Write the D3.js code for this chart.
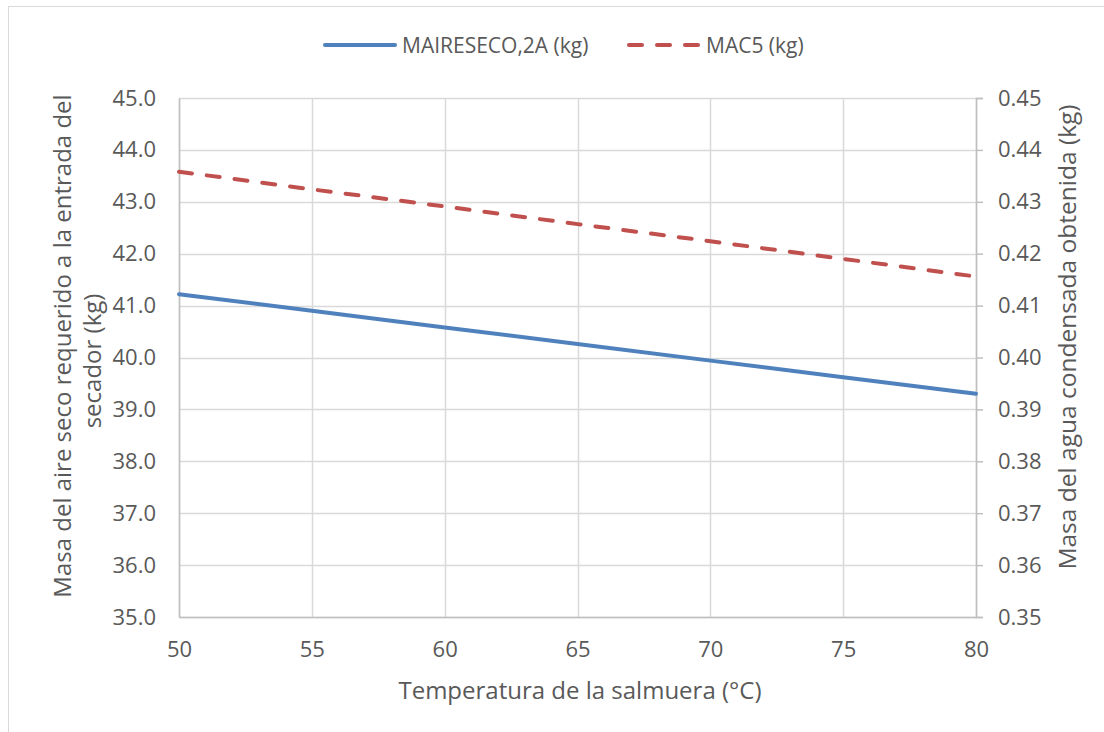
<!DOCTYPE html>
<html>
<head>
<meta charset="utf-8">
<script src="https://cdn.jsdelivr.net/npm/d3@7"></script>
<style>
  html, body { margin: 0; padding: 0; background: #fff; }
  svg text { font-family: "Open Sans", "Liberation Sans", sans-serif; fill: #595959; }
</style>
</head>
<body>
<svg id="chart" width="1104" height="732"></svg>
<script>
// Temperatura de la salmuera (°C)
const temperatures = [50, 55, 60, 65, 70, 75, 80];
// Masa del aire seco requerido (kg), eje izquierdo
const maireSeco = [41.22, 40.90, 40.58, 40.26, 39.94, 39.62, 39.30];
// Masa del agua condensada (kg), eje derecho
const mac5 = [0.4358, 0.4324, 0.4291, 0.4257, 0.4224, 0.4190, 0.4156];

const xTicks = [50, 55, 60, 65, 70, 75, 80];
const leftTicks = [35, 36, 37, 38, 39, 40, 41, 42, 43, 44, 45];
const rightTicks = [0.35, 0.36, 0.37, 0.38, 0.39, 0.40, 0.41, 0.42, 0.43, 0.44, 0.45];

const seriesNames = ["MAIRESECO,2A (kg)", "MAC5 (kg)"];
const colors = ["#4f81bd", "#c0504d"];

const svg = d3.select("#chart");
const plot = { left: 179, right: 976, top: 98, bottom: 617 };

const x = d3.scaleLinear().domain([50, 80]).range([plot.left, plot.right]);
const yL = d3.scaleLinear().domain([35, 45]).range([plot.bottom, plot.top]);
const yR = d3.scaleLinear().domain([0.35, 0.45]).range([plot.bottom, plot.top]);

// chart area frame
svg.append("rect")
  .attr("x", 8.5).attr("y", 6.5).attr("width", 1110).attr("height", 740)
  .attr("fill", "none").attr("stroke", "#d9d9d9").attr("stroke-width", 1);

// gridlines
const grid = svg.append("g");
grid.selectAll("line.h").data(leftTicks).join("line")
  .attr("x1", plot.left).attr("x2", plot.right)
  .attr("y1", d => Math.round(yL(d)) + 0.5).attr("y2", d => Math.round(yL(d)) + 0.5)
  .attr("stroke", "#d9d9d9").attr("stroke-width", 1.5);
grid.selectAll("line.v").data(xTicks).join("line")
  .attr("y1", plot.top).attr("y2", plot.bottom)
  .attr("x1", d => Math.round(x(d)) + 0.5).attr("x2", d => Math.round(x(d)) + 0.5)
  .attr("stroke", "#d9d9d9").attr("stroke-width", 1.5);

// axes
const fmt1 = d3.format(".1f");
const fmt2 = d3.format(".2f");

const axB = svg.append("g").attr("transform", `translate(0,${plot.bottom})`)
  .call(d3.axisBottom(x).tickValues(xTicks).tickSize(0).tickPadding(24).tickFormat(d3.format("d")));
const axL = svg.append("g").attr("transform", `translate(${plot.left},0)`)
  .call(d3.axisLeft(yL).tickValues(leftTicks).tickSize(0).tickPadding(23).tickFormat(fmt1));
const axR = svg.append("g").attr("transform", `translate(${plot.right},0)`)
  .call(d3.axisRight(yR).tickValues(rightTicks).tickSize(7).tickPadding(15).tickFormat(fmt2));

[axB, axL, axR].forEach(a => {
  a.select(".domain").attr("stroke", "#bfbfbf").attr("stroke-width", 1.5);
  a.selectAll(".tick line").attr("stroke", "#bfbfbf").attr("stroke-width", 1.5);
  a.selectAll("text").attr("font-size", 22).attr("fill", "#595959")
    .style("font-family", "'Open Sans', 'Liberation Sans', sans-serif");
});

// series
const line1 = d3.line().x((d, i) => x(temperatures[i])).y(d => yL(d));
const line2 = d3.line().x((d, i) => x(temperatures[i])).y(d => yR(d));

svg.append("path").datum(maireSeco)
  .attr("d", line1).attr("fill", "none")
  .attr("stroke", colors[0]).attr("stroke-width", 4).attr("stroke-linecap", "round");
svg.append("path").datum(mac5)
  .attr("d", line2).attr("fill", "none")
  .attr("stroke", colors[1]).attr("stroke-width", 4)
  .attr("stroke-dasharray", "13,15").attr("stroke-linecap", "round");

// axis titles
svg.append("text")
  .attr("x", 580).attr("y", 699)
  .attr("text-anchor", "middle").attr("font-size", 24)
  .text("Temperatura de la salmuera (°C)");

const leftTitle = svg.append("text")
  .attr("transform", "rotate(-90)")
  .attr("text-anchor", "middle").attr("font-size", 24);
leftTitle.append("tspan").attr("x", -346).attr("y", 71).text("Masa del aire seco requerido a la entrada del");
leftTitle.append("tspan").attr("x", -361).attr("y", 101).text("secador (kg)");

svg.append("text")
  .attr("transform", "translate(1076,337) rotate(-90)")
  .attr("text-anchor", "middle").attr("font-size", 24.5)
  .text("Masa del agua condensada obtenida (kg)");

// legend
const legend = svg.append("g");
const legendItems = [
  { name: seriesNames[0], color: colors[0], x: 325, dash: null },
  { name: seriesNames[1], color: colors[1], x: 629, dash: "13,15" }
];
legendItems.forEach(it => {
  legend.append("line")
    .attr("x1", it.x).attr("x2", it.x + 70).attr("y1", 45).attr("y2", 45)
    .attr("stroke", it.color).attr("stroke-width", 4)
    .attr("stroke-linecap", "round")
    .attr("stroke-dasharray", it.dash);
  legend.append("text")
    .attr("x", it.x + 77).attr("y", 53).attr("font-size", 21)
    .text(it.name);
});
</script>
</body>
</html>
